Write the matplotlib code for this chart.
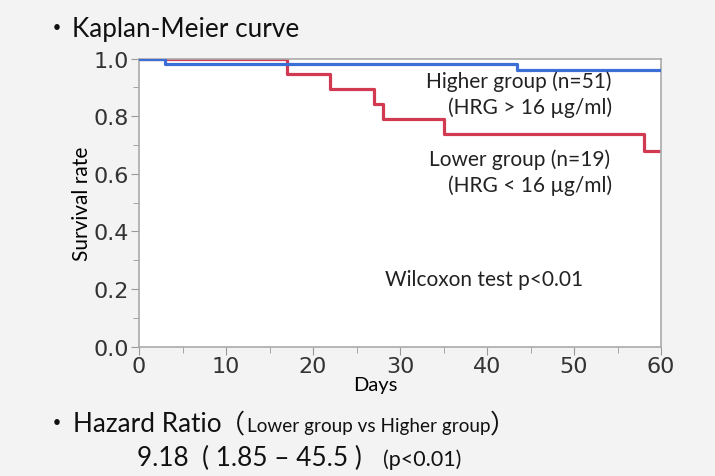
import matplotlib
matplotlib.use("Agg")
import matplotlib.pyplot as plt
import numpy as np

# --- data ---
# Kaplan-Meier steps: event day -> survival after the step
high_days = [0, 3, 43.5, 60]
high_surv = [1.0, 0.980, 0.961, 0.961]
low_days = [0, 17, 22, 27, 28, 35, 58, 60]
low_surv = [1.0, 0.947, 0.895, 0.842, 0.789, 0.737, 0.680, 0.680]

x_ticks = [0, 10, 20, 30, 40, 50, 60]
y_ticks = [0.0, 0.2, 0.4, 0.6, 0.8, 1.0]

W, H = 715, 477
txt_font = ["Lato", "Noto Sans CJK JP", "DejaVu Sans"]
tick_font = ["DejaVu Sans"]


def px(x, y):
    return x / W, 1 - y / H


fig = plt.figure(figsize=(W / 100, H / 100), dpi=100, facecolor="#f3f3f3")
ax = fig.add_axes([139 / W, 1 - 347.7 / H, (661 - 139) / W, (347.7 - 59.5) / H])
ax.set_facecolor("white")

ax.step(high_days, high_surv, where="post", color="#3b6fd6", lw=2.3, zorder=3)
ax.step(low_days, low_surv, where="post", color="#d23a52", lw=2.3, zorder=2)

ax.set_xlim(0, 60)
ax.set_ylim(0, 1.0)
ax.set_xticks(x_ticks)
ax.set_yticks(y_ticks)
ax.set_xticks(np.arange(5, 60, 10), minor=True)
ax.set_yticks(np.arange(0.1, 1.0, 0.2), minor=True)
ax.set_xticklabels([str(v) for v in x_ticks], fontsize=16, family=tick_font, color="#333333")
ax.set_yticklabels([f"{v:.1f}" for v in y_ticks], fontsize=16, family=tick_font, color="#333333")
ax.tick_params(which="major", length=6, color="#999999", pad=1)
ax.tick_params(which="minor", length=4, color="#999999")
for s in ax.spines.values():
    s.set_color("#aaaaaa")
    s.set_linewidth(1.2)

ax.set_ylabel("Survival rate", fontsize=15, family=txt_font, labelpad=1)
fig.text(*px(375, 386), "Days", ha="center", va="center", family=txt_font, fontsize=14.5)

# annotations inside the plot
kw = dict(family=txt_font, color="#222222", fontsize=15)
fig.text(*px(612, 82), "Higher group (n=51)", ha="right", va="center", **kw)
fig.text(*px(612, 108), "(HRG > 16 µg/ml)", ha="right", va="center", **kw)
fig.text(*px(610, 160), "Lower group (n=19)", ha="right", va="center", **kw)
fig.text(*px(612, 186), "(HRG < 16 µg/ml)", ha="right", va="center", **kw)
fig.text(*px(385, 280), "Wilcoxon test p<0.01", ha="left", va="center", **kw)

# slide text
big = dict(family=txt_font, color="#111111", fontsize=18.8)
small = dict(family=txt_font, color="#111111", fontsize=13.6)
fig.text(*px(44, 30), "・", ha="left", va="center", **big)
fig.text(*px(72, 30), "Kaplan-Meier curve", ha="left", va="center", **big)
fig.text(*px(44, 425), "・", ha="left", va="center", **big)
fig.text(*px(73, 425), "Hazard Ratio", ha="left", va="center", **big)
fig.text(*px(219, 425), "（", ha="left", va="center", **big)
fig.text(*px(247, 427), "Lower group vs Higher group", ha="left", va="center", **small)
fig.text(*px(490, 425), "）", ha="left", va="center", **big)
fig.text(*px(137, 458), "9.18  ( 1.85 – 45.5 )", ha="left", va="center", **big)
fig.text(*px(383, 460), "(p<0.01)", ha="left", va="center", fontsize=15.5,
         family=txt_font, color="#111111")

fig.savefig("out.png", dpi=100, facecolor=fig.get_facecolor())
